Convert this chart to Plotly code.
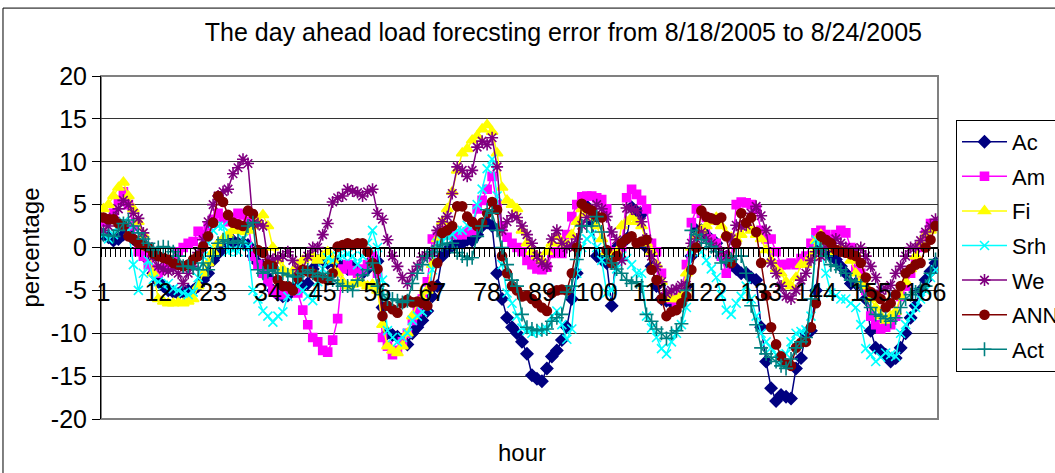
import plotly.graph_objects as go

hours = list(range(1, 169))
tick_hours = [1, 12, 23, 34, 45, 56, 67, 78, 89, 100, 111, 122, 133, 144, 155, 166]
y_ticks = [20, 15, 10, 5, 0, -5, -10, -15, -20]

ac = [1.5, 1.2, 0.8, 1.0, 1.5, 2.0, 1.0, 0.5, 0.3, -1.5, -3.0, -4.0, -4.5, -5.0, -5.2, -5.4, -5.2, -5.0, -5.0, -4.5, -3.8, -3.0, -1.5, -0.7,
      0.0, 0.5, 0.8, 0.5, 0.5, 0.3, -1.0, -1.8, -2.2, -3.5, -5.0, -5.5, -5.7, -5.6, -5.0, -4.3, -4.5, -4.2, -2.5, -1.5, -1.4, -1.8, -1.6, -1.8,
      -2.2, -2.5, -2.3, -2.6, -3.0, -2.5, -1.4, -1.6, -7.0, -10.0, -10.2, -10.4, -10.8, -11.3, -10.0, -9.3, -8.5, -7.4, -5.7, -4.5, -1.0, -0.3, 0.2, 0.5,
      0.5, 0.9, 0.8, 1.5, 2.5, 2.9, 2.5, -3.0, -6.0, -8.2, -9.3, -10.0, -11.0, -12.4, -14.9, -15.3, -15.6, -14.1, -12.7, -12.0, -10.8, -9.3, -6.0, -3.0,
      5.1, 4.8, 3.0, -1.0, -1.4, -1.8, -6.8, 0.0, 0.5, 1.0, 4.7, 4.2, 3.9, 0.0, -2.2, -4.5, -6.0, -6.2, -6.4, -6.0, -5.7, -4.5, -1.0, 2.0,
      2.0, 1.5, 0.9, 0.5, -1.0, -1.5, -2.0, -2.5, -3.0, -3.0, -3.5, -3.8, -9.3, -13.3, -16.4, -17.9, -17.2, -17.4, -17.6, -14.1, -12.9, -10.0, -9.7, -5.0,
      0.0, -0.5, -1.0, -1.4, -2.2, -3.0, -4.2, -4.2, -4.3, -6.0, -9.7, -11.7, -12.0, -12.5, -13.3, -12.9, -11.7, -10.0, -8.2, -6.8, -5.0, -3.8, -2.8, -1.8]

am = [3.0, 3.3, 4.0, 5.5, 6.5, 5.0, 2.5, -0.5, -1.0, -2.0, -2.5, -3.0, -2.5, -2.0, -1.5, -0.5, 0.0, 0.5, 0.7, 1.9, 1.5, 2.5, 3.3, 4.0,
      3.5, 3.0, 3.5, 4.0, 3.8, 3.0, -1.0, -2.0, -3.0, -4.0, -5.0, -5.3, -5.5, -5.0, -5.0, -5.3, -7.3, -9.0, -10.5, -11.0, -12.0, -12.2, -10.8, -8.3,
      -2.5, -2.0, -2.7, -3.0, -2.5, -2.0, -1.0, -3.0, -10.5, -11.5, -12.5, -12.0, -11.0, -10.0, -8.5, -7.5, -6.0, -4.0, 1.0, 1.3, 1.5, 2.0, 1.5, 1.5,
      1.5, 1.8, 2.0, 4.5, 5.5, 6.8, 8.3, 5.0, 2.5, 1.2, 0.5, 0.0, -0.5, -1.5, -2.0, -2.5, -2.6, -2.3, -0.7, -0.5, -0.7, 1.5, 3.6, 5.0,
      5.9, 6.0, 6.0, 5.8, 5.6, 4.5, -0.5, -0.5, 0.0, 5.8, 6.8, 6.2, 5.5, 4.5, 0.5, -0.5, -3.0, -5.7, -6.0, -6.5, -5.5, -2.0, 2.9, 4.5,
      4.0, 3.5, 1.0, 0.5, -1.0, -3.0, -1.5, 5.0, 5.3, 5.2, 5.0, 4.5, 2.0, 1.0, 1.0, -0.5, -2.0, -2.0, -1.8, -2.0, -1.3, -1.0, 0.5, 1.7,
      2.0, 1.5, 1.0, 1.5, 2.0, 1.7, 0.0, -2.6, -3.0, -5.0, -8.0, -9.0, -9.5, -9.3, -9.0, -8.0, -5.7, -4.5, -3.0, -1.5, 0.0, 1.5, 2.8, 2.8]

fi = [4.5, 5.0, 6.0, 7.0, 7.6, 6.0, 4.5, 3.0, 1.5, 0.0, -3.0, -6.0, -6.3, -6.5, -6.5, -6.4, -6.5, -6.3, -6.0, -4.5, -3.0, -1.8, -0.5, 0.5,
      1.0, 1.5, 2.0, 2.0, 1.8, 2.0, 2.5, 3.0, 3.8, 2.5, 0.0, -1.5, -2.5, -3.0, -2.8, -2.0, -1.5, -1.2, -1.0, -1.5, -1.0, -0.5, -1.5, -3.0,
      -4.0, -4.5, -4.3, -4.0, -4.2, -4.5, -4.3, -5.0, -9.0, -11.5, -12.0, -12.3, -11.5, -10.0, -8.0, -6.5, -6.0, -5.0, -2.0, 1.0, 3.0, 4.5, 6.5, 9.0,
      11.0, 11.5, 12.5, 13.0, 13.8, 14.3, 13.5, 11.0, 7.0, 5.5, 5.0, 4.5, 2.0, 0.5, -0.5, -1.0, -1.5, -0.5, 0.5, 1.3, 0.5, 0.3, 1.5, 3.0,
      4.5, 4.0, 3.5, 2.5, 1.0, -0.5, -1.0, -0.5, 2.5, 3.0, 3.5, 3.0, 2.5, 0.5, -0.5, -2.0, -4.0, -5.5, -6.0, -6.0, -5.5, -3.0, 0.0, 1.3,
      2.0, 2.5, 3.0, 3.5, 2.5, 1.5, 1.2, 1.0, 1.5, 2.5, 2.0, 1.5, 1.0, -0.3, -1.5, -2.5, -3.0, -4.0, -4.5, -3.5, -2.0, -2.0, -1.0, 0.8,
      1.5, 0.5, 0.0, -0.5, 0.0, -0.3, -1.5, -3.0, -4.0, -4.5, -6.0, -7.0, -8.0, -8.5, -8.0, -7.5, -5.7, -4.0, -2.5, -1.0, 0.5, 1.5, 2.0, 2.5]

srh = [1.5, 1.0, 1.5, 2.5, 3.0, 2.0, -2.0, -5.0, -3.0, -1.5, -3.7, -4.0, -4.4, -4.2, -4.8, -5.0, -5.3, -5.5, -5.2, -3.5, -1.0, 0.5, 2.0, 2.5,
       2.5, -0.5, -0.3, -0.5, 1.0, 0.1, -5.0, -6.0, -7.4, -8.0, -8.7, -8.0, -7.5, -5.7, -5.0, -4.5, -5.0, -5.7, -6.2, -4.0, -2.5, -1.2, -1.5, -1.0,
       -1.0, -0.8, -1.0, -2.0, -1.0, 0.5, 2.0, 0.0, -3.8, -9.7, -10.5, -11.0, -10.5, -10.0, -8.5, -8.0, -7.5, -7.0, -2.6, 0.5, 0.8, 1.2, 1.5, 2.0,
       2.0, 2.6, 2.5, 5.0, 6.8, 9.2, 10.3, 6.0, -2.0, -5.3, -6.5, -8.0, -9.4, -9.7, -10.0, -9.8, -9.6, -9.5, -8.0, -7.4, -9.0, -10.7, -9.5, -3.0,
       0.0, 1.0, 1.5, 0.0, -1.5, -5.3, -5.0, -2.5, -1.0, -1.3, -2.0, -3.0, -3.0, -8.0, -9.4, -10.5, -11.8, -12.4, -11.0, -10.0, -9.0, -7.0, -0.5, 0.0,
       -0.5, -1.5, -2.5, -3.5, -5.5, -7.3, -7.8, -6.5, -5.7, -4.5, -6.0, -8.0, -10.0, -11.0, -11.7, -12.5, -13.3, -12.4, -11.0, -10.0, -9.8, -9.6, -8.0, 0.9,
       0.0, -3.0, -5.3, -5.6, -6.0, -6.0, -6.5, -7.0, -9.0, -11.8, -12.5, -13.3, -12.8, -12.3, -12.5, -12.7, -10.0, -9.0, -8.0, -7.0, -6.0, -5.0, -3.5, -2.6]

we = [2.0, 2.5, 3.5, 4.5, 5.5, 5.0, 4.0, 3.4, 1.7, 0.1, -1.0, -2.2, -2.5, -2.8, -2.5, -3.0, -4.2, -3.0, -2.2, -0.6, 0.9, 3.0, 5.0, 6.0,
      6.5, 6.8, 8.6, 9.3, 10.3, 9.8, 2.8, 2.8, 2.5, -1.4, -1.4, -1.2, -1.0, -0.5, -1.5, -2.6, -2.6, -1.0, 0.0, 0.0, 1.5, 2.8, 5.3, 5.8,
      6.0, 6.8, 6.6, 6.4, 6.0, 6.5, 6.8, 4.0, 3.3, 0.9, -1.0, -2.2, -3.5, -4.2, -3.0, -2.2, -1.1, -1.0, -0.6, 2.0, 3.0, 3.6, 6.3, 9.4,
      9.0, 8.3, 9.0, 11.7, 12.4, 12.0, 12.8, 9.4, 2.0, 3.0, 3.7, 3.5, 2.5, 1.5, 0.5, -1.0, -1.8, -2.2, 1.0, 2.0, 0.5, 0.0, 0.3, 1.0,
      2.6, 3.5, 4.0, 5.0, 4.5, 3.6, 1.8, 0.9, -1.5, 4.6, 4.5, 4.3, 3.0, 1.0, -1.0, -2.2, -4.0, -5.4, -5.0, -4.8, -4.4, -4.4, 0.5, 1.0,
      1.8, 1.0, 0.5, 0.0, -0.5, -1.0, 1.0, 2.6, 2.5, 2.6, 4.0, 4.8, 3.7, 2.0, -1.8, -3.0, -4.5, -5.7, -6.0, -5.0, -3.8, -3.0, -1.5, -0.5,
      -1.0, 0.0, 0.5, 1.0, 0.5, 0.0, -0.5, -0.3, 0.0, -1.0, -2.2, -3.5, -5.0, -4.8, -4.4, -3.0, -2.2, -1.0, 0.0, 0.0, 0.8, 1.8, 2.5, 3.3]

ann = [3.5, 3.3, 3.3, 2.8, 2.5, 1.3, 1.0, 0.5, 0.3, 0.0, -0.7, -1.0, -1.2, -1.4, -1.8, -2.0, -2.2, -2.0, -1.4, -1.0, 0.1, 1.3, 2.9, 6.0,
       5.3, 3.8, 2.9, 2.7, 2.5, 4.3, 3.9, -0.3, -0.6, -2.0, -2.2, -3.8, -4.5, -4.5, -5.0, -3.5, -2.6, -2.8, -3.0, -3.4, -3.6, -3.8, -3.0, 0.1,
       0.3, 0.5, 0.3, 0.5, 0.5, -0.5, -1.8, -2.5, -8.0, -6.8, -7.2, -7.6, -6.5, -6.1, -6.4, -6.3, -6.5, -6.8, -4.5, -1.8, 1.7, 2.0, 2.5, 4.8,
       4.8, 3.6, 3.0, 2.5, 2.9, 4.0, 5.3, 4.4, -1.0, -3.0, -4.5, -5.0, -5.7, -5.6, -6.0, -6.5, -7.0, -7.4, -5.3, -5.0, -4.9, -5.0, -3.0, 0.0,
       5.1, 4.6, 4.3, 3.6, 3.5, -0.3, -1.8, -1.0, 0.5, 1.0, 1.3, 0.5, 0.7, 0.9, -2.6, -3.8, -6.0, -8.0, -7.5, -7.3, -6.5, -5.7, -2.6, 0.0,
       4.3, 3.6, 3.4, 3.2, 3.5, 1.3, -1.8, 0.5, 4.0, 2.9, 3.5, 1.8, -1.8, -5.6, -9.3, -11.3, -12.7, -13.5, -13.8, -11.7, -11.1, -11.0, -9.3, -6.5,
       1.3, 0.9, 0.5, -0.3, -0.5, -0.6, -0.8, -1.0, -1.8, -3.5, -5.2, -5.6, -6.0, -7.0, -6.5, -5.5, -4.5, -3.0, -2.5, -2.0, -1.8, 0.0, 0.9, 2.5]

act = [1.5, 1.4, 1.3, 2.0, 2.8, 3.2, 2.5, 1.7, 1.0, 0.5, -0.3, 0.0, 0.1, 0.0, -0.5, -1.0, -2.2, -2.2, -2.4, -2.6, -1.8, -2.6, -1.0, 0.5,
       0.9, 0.7, 0.5, 0.8, 0.5, 2.5, 2.9, -2.6, -3.0, -2.8, -2.6, -3.0, -3.0, -3.2, -3.4, -3.4, -3.0, -2.6, -3.0, -3.4, -3.0, -3.5, -3.8, -4.2,
       -4.5, -4.5, -5.0, -3.8, -3.2, -2.6, -1.8, -4.5, -5.5, -6.0, -6.0, -6.2, -6.4, -6.2, -4.2, -3.0, -2.0, -1.0, -0.5, 0.0, 0.3, 0.5, 0.5, -0.6,
       -1.0, -1.4, -1.2, 1.3, 2.5, 4.4, 4.0, 2.0, 0.0, -2.0, -3.8, -4.5, -7.8, -9.3, -9.5, -9.7, -9.6, -9.5, -8.6, -8.2, -7.8, -5.2, -4.5, -1.4,
       2.5, 2.5, 2.5, 3.6, 1.8, -1.0, -1.8, -2.5, -3.0, -3.8, -4.2, -4.0, -4.5, -7.8, -8.6, -9.5, -10.0, -10.6, -10.0, -9.7, -8.9, -5.0, 2.0, 1.5,
       0.9, 0.5, 0.1, -0.5, -1.8, -1.6, -1.4, -1.0, -1.0, -3.0, -6.8, -9.0, -11.7, -12.4, -12.8, -13.3, -13.8, -14.1, -13.0, -11.7, -11.0, -10.5, -6.0, 0.0,
       -0.2, -1.0, -2.0, -2.2, -2.6, -3.0, -3.8, -4.0, -4.5, -6.0, -7.0, -7.8, -8.0, -8.3, -8.6, -8.2, -7.0, -6.0, -5.5, -5.2, -4.8, -4.5, -3.0, -1.4]

series = [
    ("Ac", ac, "#000080", "diamond", 9),
    ("Am", am, "#FF00FF", "square", 8),
    ("Fi", fi, "#FFFF00", "triangle-up", 10),
    ("Srh", srh, "#00FFFF", "x-thin", 9),
    ("We", we, "#800080", "asterisk", 10),
    ("ANN", ann, "#800000", "circle", 9),
    ("Act", act, "#008080", "cross-thin", 10),
]

FONT = "Liberation Sans, Arial, sans-serif"

fig = go.Figure()
for name, vals, color, sym, size in series:
    fig.add_trace(go.Scatter(
        x=hours, y=vals, name=name, legendgroup=name,
        mode="lines+markers",
        line=dict(color=color, width=1.5),
        marker=dict(symbol=sym, size=size, color=color,
                    line=dict(color=color, width=1.6)),
    ))

fig.update_layout(
    width=1055, height=473,
    margin=dict(l=101, r=117, t=76, b=54, autoexpand=False),
    paper_bgcolor="white", plot_bgcolor="white",
    font=dict(family=FONT, size=25, color="black"),
    title=dict(text="The day ahead load forecsting error from 8/18/2005 to 8/24/2005",
               x=0.534, y=0.932, xanchor="center", yanchor="middle",
               font=dict(family=FONT, size=25, color="black")),
    showlegend=True,
    legend=dict(x=1.0215, y=0.872, xanchor="left", yanchor="top",
                bgcolor="white", bordercolor="black", borderwidth=1,
                font=dict(family=FONT, size=22, color="black"),
                traceorder="grouped", tracegroupgap=3, itemwidth=45),
    xaxis=dict(
        range=[0.5, 168.5], anchor="free", position=0.5,
        showgrid=False, zeroline=False,
        showline=True, linecolor="black", linewidth=1,
        tickmode="array", tickvals=tick_hours, ticktext=[str(t) for t in tick_hours],
        ticks="", ticklabelstandoff=22,
        minor=dict(tickmode="linear", tick0=0.5, dtick=1, ticks="outside",
                   ticklen=8, tickcolor="black", tickwidth=1, showgrid=False),
        tickfont=dict(family=FONT, size=25, color="black"),
    ),
    yaxis=dict(
        range=[-20, 20],
        tickmode="array", tickvals=y_ticks, ticktext=[str(v) for v in y_ticks],
        showgrid=True, gridcolor="#333333", gridwidth=1,
        zeroline=True, zerolinecolor="black", zerolinewidth=1,
        showline=True, linecolor="black", linewidth=1,
        ticks="outside", ticklen=8, tickcolor="black",
        tickfont=dict(family=FONT, size=25, color="black"),
        title=dict(text="percentage", font=dict(family=FONT, size=24, color="black"), standoff=4),
    ),
    shapes=[
        dict(type="rect", xref="paper", yref="paper", x0=0, x1=1, y0=0, y1=1,
             line=dict(color="#808080", width=2), layer="below"),
        dict(type="rect", xref="paper", yref="paper", x0=-0.1171, x1=1.2, y0=-0.3, y1=1.198,
             line=dict(color="black", width=1), layer="below"),
    ],
    annotations=[
        dict(text="hour", xref="paper", yref="paper", x=0.503, y=-0.098,
             xanchor="center", yanchor="middle", showarrow=False,
             font=dict(family=FONT, size=24, color="black")),
    ],
)

fig.write_html("out.html")
